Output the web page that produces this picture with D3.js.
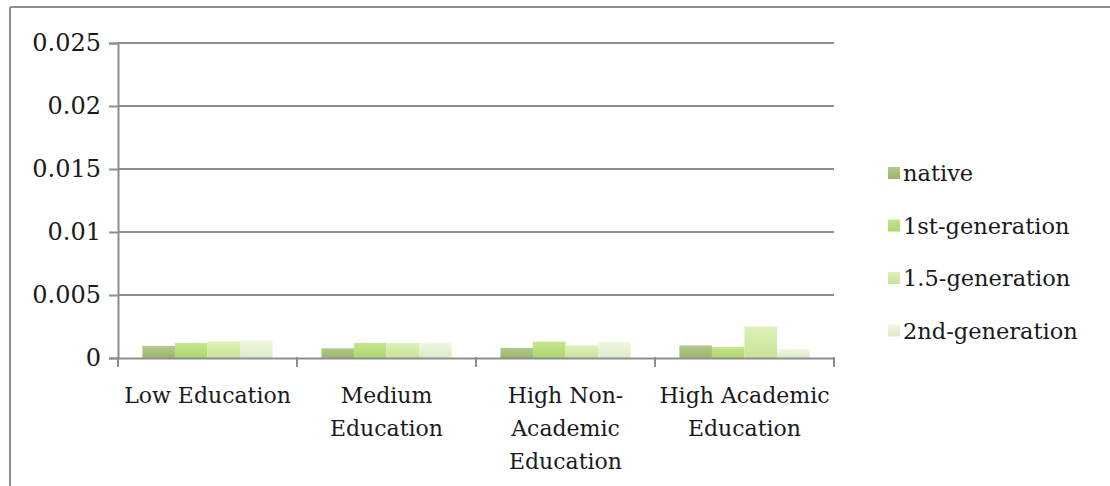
<!DOCTYPE html>
<html>
<head>
<meta charset="utf-8">
<script src="https://cdn.jsdelivr.net/npm/d3@7"></script>
<style>
  html, body { margin: 0; padding: 0; background: #fff; }
  svg { display: block; }
  text { font-family: "DejaVu Serif", serif; fill: #1a1a1a; }
</style>
</head>
<body>
<svg id="chart" width="1110" height="486"></svg>
<script>
// Education categories (multi-line labels)
const categories = ["Low Education", "Medium Education", "High Non-Academic Education", "High Academic Education"];
const categoryLines = [
  ["Low Education"],
  ["Medium", "Education"],
  ["High Non-", "Academic", "Education"],
  ["High Academic", "Education"]
];
const seriesNames = ["native", "1st-generation", "1.5-generation", "2nd-generation"];
const native = [0.00096, 0.00077, 0.0008, 0.001];
const firstGen = [0.0012, 0.0012, 0.0013, 0.00087];
const oneHalfGen = [0.0013, 0.0012, 0.001, 0.0025];
const secondGen = [0.0014, 0.0012, 0.0013, 0.0007];
const yTicks = [0, 0.005, 0.01, 0.015, 0.02, 0.025];
const yTickLabels = ["0", "0.005", "0.01", "0.015", "0.02", "0.025"];

const seriesValues = [native, firstGen, oneHalfGen, secondGen];
const colors = [
  ["#b2c98c", "#9bb56b"],
  ["#c6e68f", "#afd56c"],
  ["#ddf2b8", "#c8e399"],
  ["#eff8e1", "#dcebc6"]
];

const svg = d3.select("#chart");
const axisColor = "#8e8e8e";

// outer frame
svg.append("line").attr("x1", 10).attr("x2", 1110).attr("y1", 7).attr("y2", 7)
  .attr("stroke", axisColor).attr("stroke-width", 2);
svg.append("line").attr("x1", 10).attr("x2", 10).attr("y1", 7).attr("y2", 486)
  .attr("stroke", axisColor).attr("stroke-width", 2);

const plot = { left: 118, right: 834, top: 43, bottom: 358 };

const x = d3.scaleBand().domain(categories).range([plot.left, plot.right]).paddingInner(0).paddingOuter(0);
const y = d3.scaleLinear().domain([0, 0.025]).range([plot.bottom, plot.top]);

// bar gradients
const defs = svg.append("defs");
colors.forEach((c, i) => {
  const g = defs.append("linearGradient").attr("id", "grad" + i)
    .attr("x1", 0).attr("y1", 0).attr("x2", 0).attr("y2", 1);
  g.append("stop").attr("offset", "0%").attr("stop-color", c[0]);
  g.append("stop").attr("offset", "100%").attr("stop-color", c[1]);
});

// gridlines
svg.append("g").selectAll("line").data(yTicks.slice(1)).join("line")
  .attr("x1", plot.left).attr("x2", plot.right)
  .attr("y1", d => y(d)).attr("y2", d => y(d))
  .attr("stroke", axisColor).attr("stroke-width", 2);

// y axis
const yAxis = d3.axisLeft(y).tickValues(yTicks)
  .tickFormat((d, i) => yTickLabels[i]).tickSize(9).tickPadding(8);
const gy = svg.append("g").attr("transform", `translate(${plot.left},0)`).call(yAxis);
gy.select(".domain").attr("stroke", axisColor).attr("stroke-width", 2);
gy.selectAll(".tick line").attr("stroke", axisColor).attr("stroke-width", 2);
gy.selectAll(".tick text").attr("font-size", 24).attr("font-family", "DejaVu Serif").attr("fill", "#1a1a1a");

// bars: gap between groups is 1.5 bar widths
const barW = x.bandwidth() / 5.5;
const inner = d3.scaleBand().domain(d3.range(4)).range([0, barW * 4]);
const groups = svg.append("g").selectAll("g").data(categories).join("g")
  .attr("transform", d => `translate(${x(d) + barW * 0.75},0)`);
groups.selectAll("rect").data((d, ci) => seriesValues.map((s, si) => ({ si, v: s[ci] }))).join("rect")
  .attr("x", d => inner(d.si))
  .attr("width", inner.bandwidth())
  .attr("y", d => y(d.v))
  .attr("height", d => y(0) - y(d.v))
  .attr("fill", d => `url(#grad${d.si})`);

// x axis
const xAxis = d3.axisBottom(x).tickSize(0).tickFormat("");
const gx = svg.append("g").attr("transform", `translate(0,${plot.bottom})`).call(xAxis);
gx.select(".domain").attr("stroke", axisColor).attr("stroke-width", 2);
// category boundary ticks
const bounds = categories.map(c => x(c)).concat([x(categories[categories.length - 1]) + x.bandwidth()]);
svg.append("g").selectAll("line").data(bounds).join("line")
  .attr("x1", d => d).attr("x2", d => d)
  .attr("y1", plot.bottom - 1).attr("y2", plot.bottom + 9)
  .attr("stroke", axisColor).attr("stroke-width", 2);

// category labels
categoryLines.forEach((lines, i) => {
  const cx = x(categories[i]) + x.bandwidth() / 2;
  const t = svg.append("text").attr("text-anchor", "middle").attr("font-size", 22);
  lines.forEach((ln, j) => {
    t.append("tspan").attr("x", cx).attr("y", 403 + j * 33).text(ln);
  });
});

// legend
const legend = svg.append("g").selectAll("g").data(seriesNames).join("g")
  .attr("transform", (d, i) => `translate(888,${173 + i * 52.5})`);
legend.append("rect").attr("x", 0).attr("y", -6).attr("width", 12).attr("height", 12)
  .attr("fill", (d, i) => `url(#grad${i})`);
legend.append("text").attr("x", 15).attr("y", 8).attr("font-size", 22.5).text(d => d);
</script>
</body>
</html>
